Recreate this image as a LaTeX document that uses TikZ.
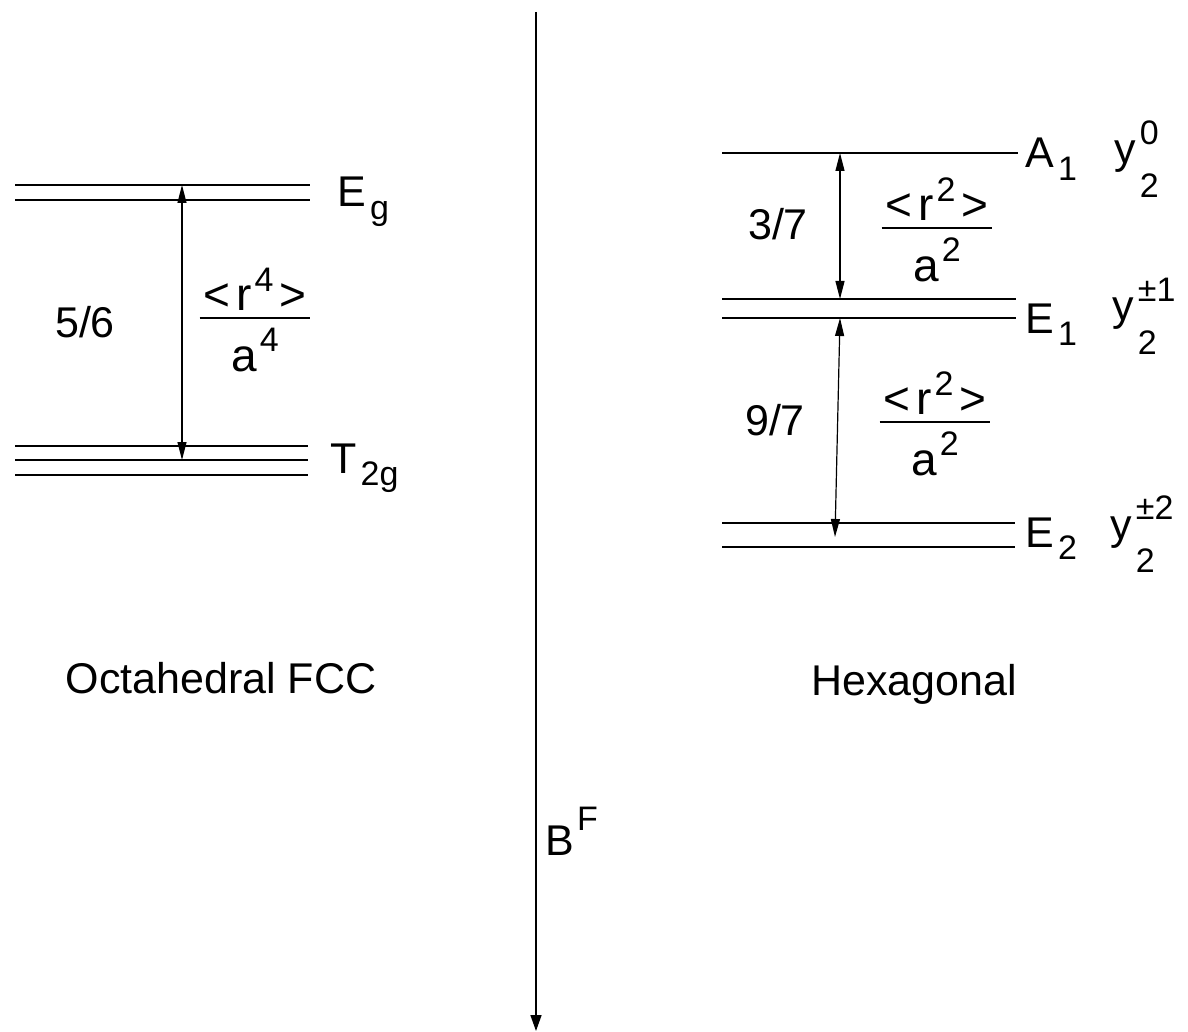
\documentclass[tikz,border=0pt]{standalone}
\usepackage{amsmath}
\usepackage{fontspec}
\setmainfont{Liberation Sans}
\usetikzlibrary{arrows.meta, positioning}

% raised and lowered indices
\newcommand{\idx}{\fontsize{17}{19}\selectfont}
\newcommand{\up}[1]{\kern1.5pt\raisebox{0.58em}{\idx #1}}
\newcommand{\fup}[1]{\kern1.5pt\raisebox{0.42em}{\idx #1}}
\newcommand{\dn}[1]{\kern2pt\raisebox{-0.28em}{\idx #1}}
\newcommand{\ysym}[2]{y\kern2pt\raisebox{0.45em}{\rlap{\idx #1}}\raisebox{-0.78em}{\idx #2}}
\newcommand{\ratio}[1]{$\frac{\textstyle\text{\rule[-2pt]{0pt}{0pt}\kern2pt<\kern3pt r\fup{#1}\kern3pt>\kern2pt}}{\textstyle\text{\rule{0pt}{1.1em}a\fup{#1}}}$}

\tikzset{
  level/.style={line width=1.2pt},
  splitarrow/.style={line width=0.6pt, {Triangle[length=9pt, width=4.5pt]}-{Triangle[length=9pt, width=4.5pt]}},
  field/.style={line width=0.8pt, -{Triangle[length=8pt, width=5.5pt]}},
  lbl/.style={inner sep=0pt, font=\fontsize{21.5}{26}\selectfont},
  fraclbl/.style={inner sep=0pt, anchor=base, font=\fontsize{23}{28}\selectfont}
}

\begin{document}
\begin{tikzpicture}[x=0.5pt, y=-0.5pt]
  \useasboundingbox (0,0) rectangle (1188,1032);

  % applied field
  \coordinate (ftop) at (536,12);
  \coordinate (fbot) at (536,1031);
  \draw[field] (ftop) -- (fbot);
  \node[lbl, anchor=base west] (bf) at (545,855) {B\up{F}};

  % octahedral levels
  \draw[level] (15,185) -- (310,185);
  \draw[level] (15,200) -- (310,200);
  \draw[level] (15,446) -- (308,446);
  \draw[level] (15,460) -- (308,460);
  \draw[level] (15,475) -- (308,475);
  \coordinate (egtop) at (182,185);
  \coordinate (tgmid) at (182,460);
  \draw[splitarrow] (egtop) -- (tgmid);
  \node[lbl, anchor=base west] (eg) at (337,207) {E\dn{g}};
  \node[lbl, anchor=base west] (t2g) at (330,473) {T\dn{2g}};
  \node[lbl, anchor=base] (oct) at (85,337) {5/6};
  \node[fraclbl] (octfrac) at (255,330) {\ratio{4}};
  \node[lbl, anchor=base] (octname) at (221,693) {Octahedral FCC};

  % hexagonal levels
  \draw[level] (722,153) -- (1018,153);
  \draw[level] (722,299) -- (1016,299);
  \draw[level] (722,318) -- (1016,318);
  \draw[level] (722,523) -- (1015,523);
  \draw[level] (722,547) -- (1015,547);
  \coordinate (aone) at (840,153);
  \coordinate (eonetop) at (840,299);
  \coordinate (eonebot) at (840,318);
  \coordinate (etwo) at (835,537);
  \draw[splitarrow] (aone) -- (eonetop);
  \draw[splitarrow] (eonebot) -- (etwo);
  \node[lbl, anchor=base west] (a1) at (1025,168) {A\dn{1}};
  \node[lbl, anchor=base west] (e1) at (1025,333) {E\dn{1}};
  \node[lbl, anchor=base west] (e2) at (1025,547) {E\dn{2}};
  \node[lbl, anchor=base west] (y0) at (1114,164) {\ysym{0}{2}};
  \node[lbl, anchor=base west] (y1) at (1112,321) {\ysym{±1}{2}};
  \node[lbl, anchor=base west] (y2) at (1110,539) {\ysym{±2}{2}};
  \node[lbl, anchor=base] (hexa) at (778,240) {3/7};
  \node[lbl, anchor=base] (hexb) at (775,435) {9/7};
  \node[fraclbl] (hexfraca) at (937,240) {\ratio{2}};
  \node[fraclbl] (hexfracb) at (935,434) {\ratio{2}};
  \node[lbl, anchor=base] (hexname) at (914,695) {Hexagonal};
\end{tikzpicture}
\end{document}
